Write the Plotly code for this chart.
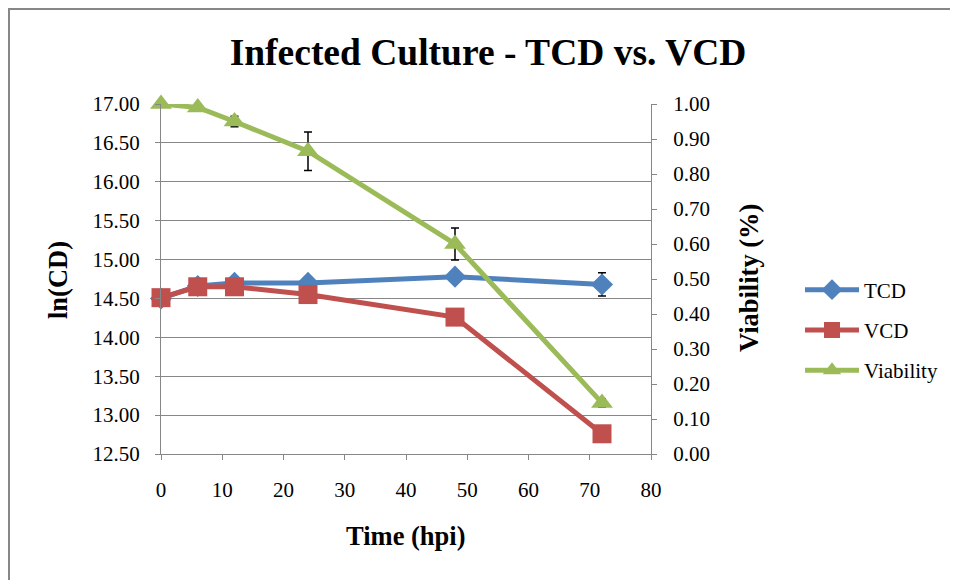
import plotly.graph_objects as go

# time points (hours post infection)
hpi = [0, 6, 12, 24, 48, 72]

# ln of total / viable cell density
tcd = [14.50, 14.66, 14.70, 14.70, 14.78, 14.68]
tcd_err = [0.01, 0.02, 0.03, 0.03, 0.05, 0.15]
vcd = [14.51, 14.65, 14.65, 14.55, 14.26, 12.76]
vcd_err = [0.01, 0.02, 0.02, 0.02, 0.03, 0.03]

# viability fraction
viability = [1.00, 0.99, 0.95, 0.865, 0.60, 0.146]
viability_err = [0.005, 0.005, 0.015, 0.055, 0.046, 0.012]

FONT = "Liberation Serif, Times New Roman, serif"
GRID = "#878787"

# the page body adds an 8px offset, so work in screen pixels and shift
OFF = 8
W, H = 958, 580
L = 161 - OFF
T = 104 - OFF
R = W - (651 - OFF)
B = H - (454 - OFF)
pw, ph = W - L - R, H - T - B


def px_x(px):
    return (px - OFF - L) / pw


def px_y(py):
    return (H - B - (py - OFF)) / ph


def err(vals):
    return dict(type="data", array=vals, color="black", thickness=1.5, width=4)


fig = go.Figure()
fig.add_trace(go.Scatter(
    x=hpi, y=tcd, name="TCD", mode="lines+markers", error_y=err(tcd_err),
    legendgroup="a", cliponaxis=False,
    line=dict(color="#4F81BD", width=5),
    marker=dict(symbol="diamond", size=17, color="#4F81BD")))
fig.add_trace(go.Scatter(
    x=hpi, y=vcd, name="VCD", mode="lines+markers", error_y=err(vcd_err),
    legendgroup="b", cliponaxis=False,
    line=dict(color="#C0504D", width=5),
    marker=dict(symbol="square", size=19, color="#C0504D")))
fig.add_trace(go.Scatter(
    x=hpi, y=viability, name="Viability", mode="lines+markers", yaxis="y2",
    error_y=err(viability_err), legendgroup="c", cliponaxis=False,
    line=dict(color="#9BBB59", width=5),
    marker=dict(symbol="triangle-up", size=19, color="#9BBB59")))

axis_common = dict(
    showline=True, linecolor=GRID, linewidth=1, ticks="outside", ticklen=5,
    tickcolor=GRID, tickfont=dict(family=FONT, size=21, color="black"),
    zeroline=False, automargin=False,
)

fig.update_layout(
    width=W, height=H,
    margin=dict(l=L, r=R, t=T, b=B, autoexpand=False),
    paper_bgcolor="white", plot_bgcolor="white",
    font=dict(family=FONT, color="black"),
    title=dict(text="<b>Infected Culture - TCD vs. VCD</b>",
               font=dict(family=FONT, size=37.5, color="black"),
               x=px_x(488), xref="paper", xanchor="center",
               y=1 - (52 - OFF) / H, yanchor="middle"),
    xaxis=dict(range=[0, 80], dtick=10, showgrid=False,
               ticklabelstandoff=12, **axis_common),
    yaxis=dict(range=[12.5, 17], dtick=0.5, tickformat=".2f",
               showgrid=True, gridcolor=GRID, gridwidth=1,
               ticklabelstandoff=11, **axis_common),
    yaxis2=dict(range=[0, 1], dtick=0.1, tickformat=".2f", overlaying="y",
                side="right", showgrid=False, ticklabelstandoff=12,
                **axis_common),
    legend=dict(x=px_x(800), y=px_y(330), xanchor="left", yanchor="middle",
                font=dict(family=FONT, size=21, color="black"),
                bgcolor="rgba(0,0,0,0)", itemwidth=54,
                traceorder="grouped", tracegroupgap=10),
    showlegend=True,
)

title_font = dict(family=FONT, size=26.5, color="black")
fig.add_annotation(text="<b>ln(CD)</b>", xref="paper", yref="paper",
                   x=px_x(58), y=px_y(280), textangle=-90, showarrow=False,
                   xanchor="center", yanchor="middle", font=title_font)
fig.add_annotation(text="<b>Viability (%)</b>", xref="paper", yref="paper",
                   x=px_x(749), y=px_y(278), textangle=-90, showarrow=False,
                   xanchor="center", yanchor="middle", font=title_font)
fig.add_annotation(text="<b>Time (hpi)</b>", xref="paper", yref="paper",
                   x=px_x(406), y=px_y(536), showarrow=False,
                   xanchor="center", yanchor="middle", font=title_font)

# outer chart border
fig.add_shape(type="rect", xref="paper", yref="paper",
              x0=px_x(9), x1=px_x(W + 20), y0=px_y(H + 20), y1=px_y(9),
              line=dict(color=GRID, width=2), layer="below")

fig.write_html("out.html")
